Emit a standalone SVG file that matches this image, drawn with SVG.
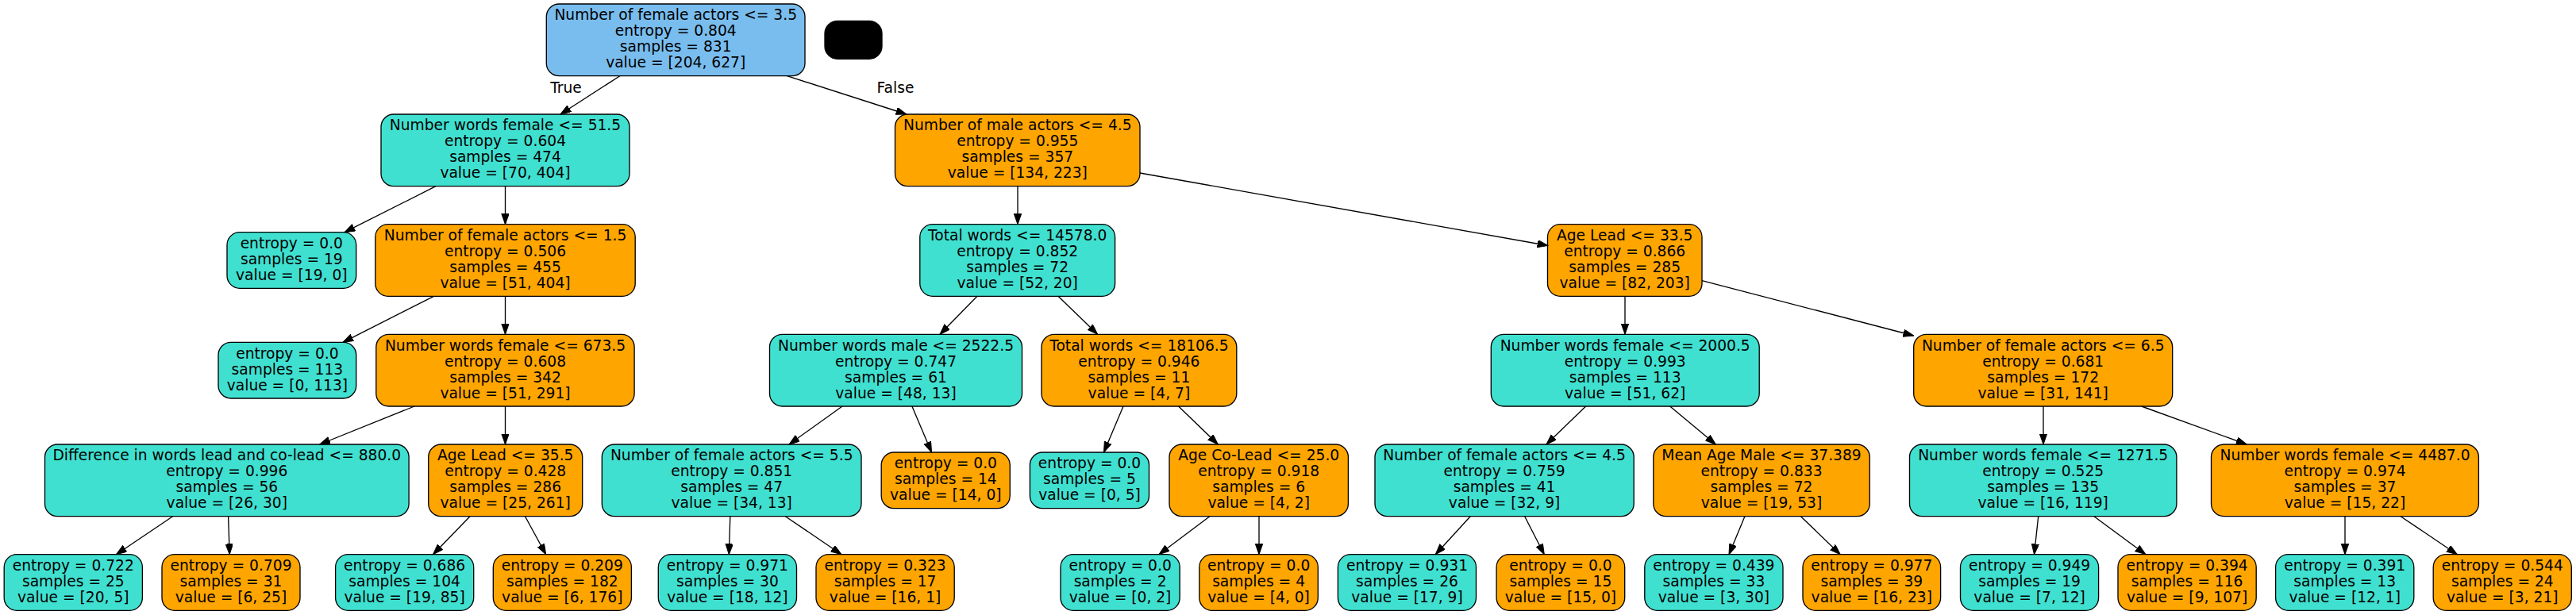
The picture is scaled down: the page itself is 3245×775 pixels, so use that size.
<svg xmlns="http://www.w3.org/2000/svg" width="3245" height="775" viewBox="0 0 3245 775">
<style>
text{font-family:"DejaVu Sans","Liberation Sans",sans-serif;font-size:18.67px;fill:#000;text-anchor:middle}
.b{stroke:#000;stroke-width:1.33}
.t{fill:#40e0d0}
.o{fill:#ffa500}
.bl{fill:#79bdee}
.k{fill:#000}
.e line{stroke:#000;stroke-width:1.33;marker-end:url(#ah)}
</style>
<defs>
<marker id="ah" markerUnits="userSpaceOnUse" markerWidth="14" markerHeight="10" refX="13.3" refY="4.67" orient="auto">
<path d="M0,0 L13.3,4.67 L0,9.33 z" fill="#000" stroke="#000" stroke-width="1"/>
</marker>
</defs>
<rect width="3245" height="775" fill="#fff"/>
<g id="nodes">
<g id="n0"><rect class="b bl" x="688.3" y="5" width="325.7" height="90.67" rx="16"/><text x="851.2" y="25.3">Number of female actors &lt;= 3.5</text><text x="851.2" y="45.3">entropy = 0.804</text><text x="851.2" y="65.3">samples = 831</text><text x="851.2" y="85.3">value = [204, 627]</text></g>
<g id="nk"><rect class="b k" x="1039" y="26.3" width="72" height="48" rx="16"/></g>
<g id="n1"><rect class="b t" x="480" y="144" width="313" height="90.67" rx="16"/><text x="636.5" y="164.3">Number words female &lt;= 51.5</text><text x="636.5" y="184.3">entropy = 0.604</text><text x="636.5" y="204.3">samples = 474</text><text x="636.5" y="224.3">value = [70, 404]</text></g>
<g id="n2"><rect class="b o" x="1127.5" y="144" width="308.5" height="90.67" rx="16"/><text x="1281.8" y="164.3">Number of male actors &lt;= 4.5</text><text x="1281.8" y="184.3">entropy = 0.955</text><text x="1281.8" y="204.3">samples = 357</text><text x="1281.8" y="224.3">value = [134, 223]</text></g>
<g id="n3"><rect class="b t" x="286" y="292.67" width="162.7" height="70.67" rx="16"/><text x="367.3" y="312.9">entropy = 0.0</text><text x="367.3" y="332.9">samples = 19</text><text x="367.3" y="352.9">value = [19, 0]</text></g>
<g id="n4"><rect class="b o" x="472.8" y="282.67" width="327.4" height="90.67" rx="16"/><text x="636.5" y="302.9">Number of female actors &lt;= 1.5</text><text x="636.5" y="322.9">entropy = 0.506</text><text x="636.5" y="342.9">samples = 455</text><text x="636.5" y="362.9">value = [51, 404]</text></g>
<g id="n5"><rect class="b t" x="1158.8" y="282.67" width="245.8" height="90.67" rx="16"/><text x="1281.7" y="302.9">Total words &lt;= 14578.0</text><text x="1281.7" y="322.9">entropy = 0.852</text><text x="1281.7" y="342.9">samples = 72</text><text x="1281.7" y="362.9">value = [52, 20]</text></g>
<g id="n6"><rect class="b o" x="1949.5" y="282.67" width="194.5" height="90.67" rx="16"/><text x="2046.7" y="302.9">Age Lead &lt;= 33.5</text><text x="2046.7" y="322.9">entropy = 0.866</text><text x="2046.7" y="342.9">samples = 285</text><text x="2046.7" y="362.9">value = [82, 203]</text></g>
<g id="n7"><rect class="b t" x="275" y="431.33" width="173.7" height="70.67" rx="16"/><text x="361.9" y="451.6">entropy = 0.0</text><text x="361.9" y="471.6">samples = 113</text><text x="361.9" y="491.6">value = [0, 113]</text></g>
<g id="n8"><rect class="b o" x="473.8" y="421.33" width="325.3" height="90.67" rx="16"/><text x="636.5" y="441.6">Number words female &lt;= 673.5</text><text x="636.5" y="461.6">entropy = 0.608</text><text x="636.5" y="481.6">samples = 342</text><text x="636.5" y="501.6">value = [51, 291]</text></g>
<g id="n9"><rect class="b t" x="969.5" y="421.33" width="318" height="90.67" rx="16"/><text x="1128.5" y="441.6">Number words male &lt;= 2522.5</text><text x="1128.5" y="461.6">entropy = 0.747</text><text x="1128.5" y="481.6">samples = 61</text><text x="1128.5" y="501.6">value = [48, 13]</text></g>
<g id="n10"><rect class="b o" x="1312" y="421.33" width="245.8" height="90.67" rx="16"/><text x="1434.9" y="441.6">Total words &lt;= 18106.5</text><text x="1434.9" y="461.6">entropy = 0.946</text><text x="1434.9" y="481.6">samples = 11</text><text x="1434.9" y="501.6">value = [4, 7]</text></g>
<g id="n11"><rect class="b t" x="1878.3" y="421.33" width="337.9" height="90.67" rx="16"/><text x="2047.2" y="441.6">Number words female &lt;= 2000.5</text><text x="2047.2" y="461.6">entropy = 0.993</text><text x="2047.2" y="481.6">samples = 113</text><text x="2047.2" y="501.6">value = [51, 62]</text></g>
<g id="n12"><rect class="b o" x="2410.7" y="421.33" width="326" height="90.67" rx="16"/><text x="2573.7" y="441.6">Number of female actors &lt;= 6.5</text><text x="2573.7" y="461.6">entropy = 0.681</text><text x="2573.7" y="481.6">samples = 172</text><text x="2573.7" y="501.6">value = [31, 141]</text></g>
<g id="n13"><rect class="b t" x="56.5" y="560" width="458.6" height="90.67" rx="16"/><text x="285.8" y="580.3">Difference in words lead and co-lead &lt;= 880.0</text><text x="285.8" y="600.3">entropy = 0.996</text><text x="285.8" y="620.3">samples = 56</text><text x="285.8" y="640.3">value = [26, 30]</text></g>
<g id="n14"><rect class="b o" x="539.7" y="560" width="194" height="90.67" rx="16"/><text x="636.7" y="580.3">Age Lead &lt;= 35.5</text><text x="636.7" y="600.3">entropy = 0.428</text><text x="636.7" y="620.3">samples = 286</text><text x="636.7" y="640.3">value = [25, 261]</text></g>
<g id="n15"><rect class="b t" x="758.3" y="560" width="326.7" height="90.67" rx="16"/><text x="921.7" y="580.3">Number of female actors &lt;= 5.5</text><text x="921.7" y="600.3">entropy = 0.851</text><text x="921.7" y="620.3">samples = 47</text><text x="921.7" y="640.3">value = [34, 13]</text></g>
<g id="n16"><rect class="b o" x="1110.2" y="570" width="162.1" height="70.67" rx="16"/><text x="1191.3" y="590.3">entropy = 0.0</text><text x="1191.3" y="610.3">samples = 14</text><text x="1191.3" y="630.3">value = [14, 0]</text></g>
<g id="n17"><rect class="b t" x="1297.4" y="570" width="150.1" height="70.67" rx="16"/><text x="1372.5" y="590.3">entropy = 0.0</text><text x="1372.5" y="610.3">samples = 5</text><text x="1372.5" y="630.3">value = [0, 5]</text></g>
<g id="n18"><rect class="b o" x="1473" y="560" width="225.4" height="90.67" rx="16"/><text x="1585.7" y="580.3">Age Co-Lead &lt;= 25.0</text><text x="1585.7" y="600.3">entropy = 0.918</text><text x="1585.7" y="620.3">samples = 6</text><text x="1585.7" y="640.3">value = [4, 2]</text></g>
<g id="n19"><rect class="b t" x="1732" y="560" width="326.2" height="90.67" rx="16"/><text x="1895.1" y="580.3">Number of female actors &lt;= 4.5</text><text x="1895.1" y="600.3">entropy = 0.759</text><text x="1895.1" y="620.3">samples = 41</text><text x="1895.1" y="640.3">value = [32, 9]</text></g>
<g id="n20"><rect class="b o" x="2082.8" y="560" width="272.5" height="90.67" rx="16"/><text x="2219" y="580.3">Mean Age Male &lt;= 37.389</text><text x="2219" y="600.3">entropy = 0.833</text><text x="2219" y="620.3">samples = 72</text><text x="2219" y="640.3">value = [19, 53]</text></g>
<g id="n21"><rect class="b t" x="2405.5" y="560" width="336.4" height="90.67" rx="16"/><text x="2573.7" y="580.3">Number words female &lt;= 1271.5</text><text x="2573.7" y="600.3">entropy = 0.525</text><text x="2573.7" y="620.3">samples = 135</text><text x="2573.7" y="640.3">value = [16, 119]</text></g>
<g id="n22"><rect class="b o" x="2785.5" y="560" width="336.9" height="90.67" rx="16"/><text x="2954" y="580.3">Number words female &lt;= 4487.0</text><text x="2954" y="600.3">entropy = 0.974</text><text x="2954" y="620.3">samples = 37</text><text x="2954" y="640.3">value = [15, 22]</text></g>
<g id="n23"><rect class="b t" x="5.2" y="698.67" width="174.2" height="70.67" rx="16"/><text x="92.3" y="718.9">entropy = 0.722</text><text x="92.3" y="738.9">samples = 25</text><text x="92.3" y="758.9">value = [20, 5]</text></g>
<g id="n24"><rect class="b o" x="204" y="698.67" width="174" height="70.67" rx="16"/><text x="291" y="718.9">entropy = 0.709</text><text x="291" y="738.9">samples = 31</text><text x="291" y="758.9">value = [6, 25]</text></g>
<g id="n25"><rect class="b t" x="422.6" y="698.67" width="174.1" height="70.67" rx="16"/><text x="509.6" y="718.9">entropy = 0.686</text><text x="509.6" y="738.9">samples = 104</text><text x="509.6" y="758.9">value = [19, 85]</text></g>
<g id="n26"><rect class="b o" x="621.3" y="698.67" width="174.1" height="70.67" rx="16"/><text x="708.3" y="718.9">entropy = 0.209</text><text x="708.3" y="738.9">samples = 182</text><text x="708.3" y="758.9">value = [6, 176]</text></g>
<g id="n27"><rect class="b t" x="829.3" y="698.67" width="174.2" height="70.67" rx="16"/><text x="916.4" y="718.9">entropy = 0.971</text><text x="916.4" y="738.9">samples = 30</text><text x="916.4" y="758.9">value = [18, 12]</text></g>
<g id="n28"><rect class="b o" x="1028" y="698.67" width="174.2" height="70.67" rx="16"/><text x="1115.1" y="718.9">entropy = 0.323</text><text x="1115.1" y="738.9">samples = 17</text><text x="1115.1" y="758.9">value = [16, 1]</text></g>
<g id="n29"><rect class="b t" x="1336" y="698.67" width="150.2" height="70.67" rx="16"/><text x="1411.1" y="718.9">entropy = 0.0</text><text x="1411.1" y="738.9">samples = 2</text><text x="1411.1" y="758.9">value = [0, 2]</text></g>
<g id="n30"><rect class="b o" x="1510.8" y="698.67" width="149.5" height="70.67" rx="16"/><text x="1585.6" y="718.9">entropy = 0.0</text><text x="1585.6" y="738.9">samples = 4</text><text x="1585.6" y="758.9">value = [4, 0]</text></g>
<g id="n31"><rect class="b t" x="1685.4" y="698.67" width="174.1" height="70.67" rx="16"/><text x="1772.5" y="718.9">entropy = 0.931</text><text x="1772.5" y="738.9">samples = 26</text><text x="1772.5" y="758.9">value = [17, 9]</text></g>
<g id="n32"><rect class="b o" x="1885.1" y="698.67" width="161.6" height="70.67" rx="16"/><text x="1965.9" y="718.9">entropy = 0.0</text><text x="1965.9" y="738.9">samples = 15</text><text x="1965.9" y="758.9">value = [15, 0]</text></g>
<g id="n33"><rect class="b t" x="2071.8" y="698.67" width="174.2" height="70.67" rx="16"/><text x="2158.9" y="718.9">entropy = 0.439</text><text x="2158.9" y="738.9">samples = 33</text><text x="2158.9" y="758.9">value = [3, 30]</text></g>
<g id="n34"><rect class="b o" x="2271" y="698.67" width="173.6" height="70.67" rx="16"/><text x="2357.8" y="718.9">entropy = 0.977</text><text x="2357.8" y="738.9">samples = 39</text><text x="2357.8" y="758.9">value = [16, 23]</text></g>
<g id="n35"><rect class="b t" x="2469.5" y="698.67" width="174.1" height="70.67" rx="16"/><text x="2556.6" y="718.9">entropy = 0.949</text><text x="2556.6" y="738.9">samples = 19</text><text x="2556.6" y="758.9">value = [7, 12]</text></g>
<g id="n36"><rect class="b o" x="2668" y="698.67" width="174.2" height="70.67" rx="16"/><text x="2755.1" y="718.9">entropy = 0.394</text><text x="2755.1" y="738.9">samples = 116</text><text x="2755.1" y="758.9">value = [9, 107]</text></g>
<g id="n37"><rect class="b t" x="2866.6" y="698.67" width="174.2" height="70.67" rx="16"/><text x="2953.7" y="718.9">entropy = 0.391</text><text x="2953.7" y="738.9">samples = 13</text><text x="2953.7" y="758.9">value = [12, 1]</text></g>
<g id="n38"><rect class="b o" x="3065.2" y="698.67" width="174.1" height="70.67" rx="16"/><text x="3152.3" y="718.9">entropy = 0.544</text><text x="3152.3" y="738.9">samples = 24</text><text x="3152.3" y="758.9">value = [3, 21]</text></g>
</g>
<g id="edges" class="e">
<line x1="780.8" y1="95.7" x2="706" y2="144"/>
<line x1="991.5" y1="95.7" x2="1142" y2="144"/>
<line x1="549" y1="234.7" x2="434" y2="292.7"/>
<line x1="636.5" y1="234.7" x2="636.5" y2="282.7"/>
<line x1="1282" y1="234.7" x2="1282" y2="282.7"/>
<line x1="1436" y1="218" x2="1950" y2="309.5"/>
<line x1="546.5" y1="373.3" x2="432" y2="431.3"/>
<line x1="636.5" y1="373.3" x2="636.5" y2="421.3"/>
<line x1="1231" y1="373.3" x2="1184" y2="421.3"/>
<line x1="1333" y1="373.3" x2="1382.6" y2="421.3"/>
<line x1="2047" y1="373.3" x2="2047" y2="421.3"/>
<line x1="2144" y1="353.6" x2="2410.7" y2="423"/>
<line x1="522" y1="512" x2="402.7" y2="560"/>
<line x1="636.5" y1="512" x2="636.5" y2="560"/>
<line x1="1061" y1="512" x2="994" y2="560"/>
<line x1="1148.9" y1="512" x2="1173.5" y2="570"/>
<line x1="1415" y1="512" x2="1390.5" y2="570"/>
<line x1="1484.6" y1="512" x2="1534.3" y2="560"/>
<line x1="1997.6" y1="512" x2="1948" y2="560"/>
<line x1="2103.7" y1="512" x2="2161.3" y2="560"/>
<line x1="2574" y1="512" x2="2574" y2="560"/>
<line x1="2697.7" y1="512" x2="2830.2" y2="560"/>
<line x1="217.6" y1="650.7" x2="146.4" y2="698.7"/>
<line x1="287.6" y1="650.7" x2="289.2" y2="698.7"/>
<line x1="592" y1="650.7" x2="545.5" y2="698.7"/>
<line x1="661.5" y1="650.7" x2="687.7" y2="698.7"/>
<line x1="919.8" y1="650.7" x2="918.3" y2="698.7"/>
<line x1="989.4" y1="650.7" x2="1060" y2="698.7"/>
<line x1="1523.8" y1="650.7" x2="1460" y2="698.7"/>
<line x1="1586" y1="650.7" x2="1586" y2="698.7"/>
<line x1="1852.2" y1="650.7" x2="1808.3" y2="698.7"/>
<line x1="1920.7" y1="650.7" x2="1945.3" y2="698.7"/>
<line x1="2197.9" y1="650.7" x2="2178" y2="698.7"/>
<line x1="2268.5" y1="650.7" x2="2318.2" y2="698.7"/>
<line x1="2567.7" y1="650.7" x2="2562.5" y2="698.7"/>
<line x1="2637.9" y1="650.7" x2="2702.9" y2="698.7"/>
<line x1="2954" y1="650.7" x2="2954" y2="698.7"/>
<line x1="3024.1" y1="650.7" x2="3095.3" y2="698.7"/>
</g>
<g id="edge-labels">
<text x="713" y="116.5">True</text>
<text x="1128" y="116.5">False</text>
</g>
</svg>
